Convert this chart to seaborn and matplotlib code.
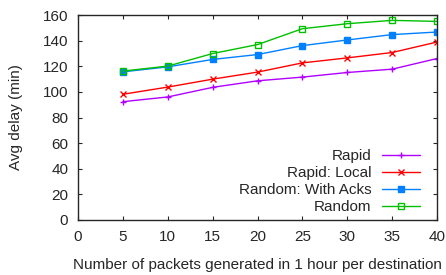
import seaborn as sns
import matplotlib.pyplot as plt

sns.set_style('ticks')
plt.rcParams['font.family'] = ['Liberation Sans', 'DejaVu Sans']

packets = [5, 10, 15, 20, 25, 30, 35, 40]
rapid = [92.4, 96.1, 103.6, 108.7, 111.6, 115.2, 117.8, 126.1]
rapid_local = [98.2, 103.8, 110.0, 115.5, 122.7, 126.6, 130.8, 139.0]
random_acks = [115.7, 119.6, 125.4, 129.2, 136.2, 140.6, 144.8, 146.8]
random_plain = [116.3, 120.2, 130.0, 137.0, 149.4, 153.3, 155.9, 155.1]

series = ['Rapid', 'Rapid: Local', 'Random: With Acks', 'Random']
values = [rapid, rapid_local, random_acks, random_plain]
colors = ['#b000ff', '#ff0000', '#0080ff', '#00c000']
markers = ['+', 'x', 's', 's']
faces = [None, None, '#0080ff', 'none']

fig, ax = plt.subplots(figsize=(4.46, 2.75), dpi=100)
# one series at a time, seaborn won't mix filled and line markers
for name, v, c, m, f in zip(series, values, colors, markers, faces):
    kw = dict(marker=m, markersize=4, markeredgewidth=1, markeredgecolor=c)
    if f is not None:
        kw['markerfacecolor'] = f
    sns.lineplot(x=packets, y=v, color=c, label=name, linewidth=1, ax=ax, **kw)

ax.set_xlim(0, 40)
ax.set_ylim(0, 160)
ax.set_xticks(range(0, 41, 5))
ax.set_yticks(range(0, 161, 20))
ax.tick_params(direction='in', top=True, right=True, labelsize=11, length=3, pad=7)
ax.set_xlabel('Number of packets generated in 1 hour per destination', fontsize=11, labelpad=10)
ax.set_ylabel('Avg delay (min)', fontsize=11, labelpad=14)
for sp in ax.spines.values():
    sp.set_linewidth(1)

ax.legend(loc='lower right', bbox_to_anchor=(0.975, -0.01), frameon=False,
          markerfirst=False, fontsize=11, handlelength=2.5, handletextpad=0.7,
          labelspacing=0.2, borderaxespad=0.3, borderpad=0.2)

plt.subplots_adjust(left=0.175, right=0.98, top=0.945, bottom=0.2)
fig.savefig('out.png', dpi=100)
